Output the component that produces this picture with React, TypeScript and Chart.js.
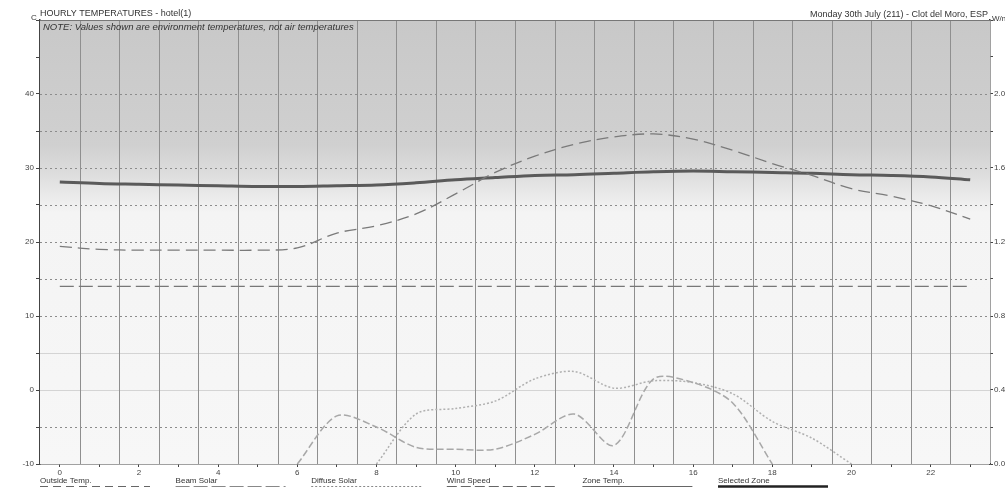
import React, { useEffect, useRef } from "react";
import { Chart, registerables } from "chart.js";

Chart.register(...registerables);

const hours = [0, 1, 2, 3, 4, 5, 6, 7, 8, 9, 10, 11, 12, 13, 14, 15, 16, 17, 18, 19, 20, 21, 22, 23];
const outsideTemp = [19.4, 19.0, 18.9, 18.9, 18.9, 18.9, 19.2, 21.2, 22.2, 23.8, 26.5, 29.4, 31.6, 33.2, 34.2, 34.6, 33.9, 32.4, 30.6, 29.0, 27.2, 26.2, 24.9, 23.1];
const zoneTemp = [28.1, 27.9, 27.8, 27.7, 27.6, 27.5, 27.5, 27.6, 27.7, 28.0, 28.4, 28.7, 29.0, 29.1, 29.3, 29.5, 29.6, 29.5, 29.4, 29.3, 29.1, 29.0, 28.8, 28.4];
const beamSolar = [null, null, null, null, null, null, 0.0, 0.26, 0.2, 0.09, 0.08, 0.08, 0.16, 0.27, 0.1, 0.46, 0.44, 0.33, 0.0, null, null, null, null, null];
const diffuseSolar = [null, null, null, null, null, null, null, null, 0.0, 0.27, 0.3, 0.34, 0.46, 0.5, 0.41, 0.45, 0.44, 0.38, 0.23, 0.14, 0.0, null, null, null];
const windSpeed = [0.96, 0.96, 0.96, 0.96, 0.96, 0.96, 0.96, 0.96, 0.96, 0.96, 0.96, 0.96, 0.96, 0.96, 0.96, 0.96, 0.96, 0.96, 0.96, 0.96, 0.96, 0.96, 0.96, 0.96];
const tempTicks = [-10, -5, 0, 5, 10, 15, 20, 25, 30, 35, 40, 45, 50];
const solarTicks = [0, 0.2, 0.4, 0.6, 0.8, 1.0, 1.2, 1.4, 1.6, 1.8, 2.0, 2.2, 2.4];
const legendLabels = ["Outside Temp.", "Beam Solar", "Diffuse Solar", "Wind Speed", "Zone Temp.", "Selected Zone"];

const FONT = "'Liberation Sans', Arial, sans-serif";

const toXY = (arr: (number | null)[]) => hours.map((h, i) => ({ x: h, y: arr[i] }));

const decorPlugin = {
  id: "decor",
  beforeDatasetsDraw(chart: any) {
    const { ctx, chartArea: a, scales } = chart;
    const x = scales.x;
    const y = scales.y;
    ctx.save();
    const g = ctx.createLinearGradient(0, a.top, 0, a.bottom);
    const yTop = a.top;
    const h = a.bottom - a.top;
    const stop = (v: number) => Math.min(1, Math.max(0, (y.getPixelForValue(v) - yTop) / h));
    g.addColorStop(0, "#c8c8c8");
    g.addColorStop(stop(33), "#d0d0d0");
    g.addColorStop(stop(29), "#dedede");
    g.addColorStop(stop(24), "#f4f4f4");
    g.addColorStop(1, "#f7f7f7");
    ctx.fillStyle = g;
    ctx.fillRect(a.left, a.top, a.right - a.left, a.bottom - a.top);
    for (const v of tempTicks) {
      if (v <= -10 || v >= 45) continue;
      const py = Math.round(y.getPixelForValue(v)) + 0.5;
      ctx.beginPath();
      if (v === 0 || v === 5) {
        ctx.setLineDash([]);
        ctx.strokeStyle = "#d4d4d4";
      } else {
        ctx.setLineDash([2, 3]);
        ctx.strokeStyle = "#8c8c8c";
      }
      ctx.lineWidth = 1;
      ctx.moveTo(a.left, py);
      ctx.lineTo(a.right, py);
      ctx.stroke();
    }
    ctx.setLineDash([]);
    ctx.strokeStyle = "#8f8f8f";
    ctx.lineWidth = 1;
    for (let k = 0; k < hours.length - 1; k++) {
      const px = Math.round(x.getPixelForValue(hours[k] + 0.5)) + 0.5;
      ctx.beginPath();
      ctx.moveTo(px, a.top);
      ctx.lineTo(px, a.bottom);
      ctx.stroke();
    }
    ctx.strokeStyle = "#777";
    ctx.beginPath();
    ctx.moveTo(a.left, a.top + 0.5);
    ctx.lineTo(a.right, a.top + 0.5);
    ctx.stroke();
    ctx.fillStyle = "#333";
    ctx.font = `italic 9.5px ${FONT}`;
    ctx.textBaseline = "alphabetic";
    ctx.textAlign = "left";
    ctx.fillText("NOTE: Values shown are environment temperatures, not air temperatures", a.left + 3, a.top + 10);
    ctx.restore();
  },
  afterDraw(chart: any) {
    const { ctx, chartArea: a } = chart;
    ctx.save();
    ctx.fillStyle = "#333";
    ctx.font = `9px ${FONT}`;
    ctx.textBaseline = "alphabetic";
    ctx.textAlign = "left";
    ctx.fillText("HOURLY TEMPERATURES - hotel(1)", a.left, 16);
    ctx.font = `8px ${FONT}`;
    ctx.fillText("C", 31, 20);
    ctx.font = `9px ${FONT}`;
    ctx.textAlign = "right";
    ctx.fillText("Monday 30th July (211) - Clot del Moro, ESP", a.right - 2, 17);
    ctx.textAlign = "left";
    ctx.font = `8px ${FONT}`;
    ctx.fillText("W/m²", a.right + 2, 21);
    const styles = [
      { dash: [8, 5], color: "#666", w: 1 },
      { dash: [14, 4], color: "#888", w: 1 },
      { dash: [2, 2], color: "#888", w: 1 },
      { dash: [10, 4], color: "#666", w: 1 },
      { dash: [], color: "#666", w: 1 },
      { dash: [], color: "#222", w: 2.5 },
    ];
    legendLabels.forEach((lab, i) => {
      const lx = a.left + i * 135.6;
      ctx.fillStyle = "#333";
      ctx.font = `8px ${FONT}`;
      ctx.fillText(lab, lx, 483);
      const s = styles[i];
      ctx.beginPath();
      ctx.setLineDash(s.dash);
      ctx.strokeStyle = s.color;
      ctx.lineWidth = s.w;
      ctx.moveTo(lx, 486.5);
      ctx.lineTo(lx + 110, 486.5);
      ctx.stroke();
    });
    ctx.restore();
  },
};

export default function App() {
  const ref = useRef<HTMLCanvasElement | null>(null);
  useEffect(() => {
    if (!ref.current) return;
    const tickFont = { family: FONT, size: 8 };
    const chart = new Chart(ref.current, {
      type: "line",
      data: {
        datasets: [
          {
            label: "Beam Solar",
            data: toXY(beamSolar),
            yAxisID: "y1",
            borderColor: "#a8a8a8",
            borderWidth: 1.5,
            borderDash: [7, 3],
            pointRadius: 0,
            tension: 0.3,
            spanGaps: false,
          },
          {
            label: "Diffuse Solar",
            data: toXY(diffuseSolar),
            yAxisID: "y1",
            borderColor: "#b0b0b0",
            borderWidth: 1.5,
            borderDash: [2, 2],
            pointRadius: 0,
            tension: 0.3,
            spanGaps: false,
          },
          {
            label: "Wind Speed",
            data: toXY(windSpeed),
            yAxisID: "y1",
            borderColor: "#777",
            borderWidth: 1.2,
            borderDash: [14, 5],
            pointRadius: 0,
          },
          {
            label: "Outside Temp.",
            data: toXY(outsideTemp),
            yAxisID: "y",
            borderColor: "#7a7a7a",
            borderWidth: 1.3,
            borderDash: [12, 6],
            pointRadius: 0,
            tension: 0.35,
          },
          {
            label: "Selected Zone",
            data: toXY(zoneTemp),
            yAxisID: "y",
            borderColor: "#5a5a5a",
            borderWidth: 3,
            pointRadius: 0,
            tension: 0.35,
          },
        ],
      },
      options: {
        responsive: false,
        animation: false,
        layout: { padding: { top: 20, left: 0, right: 0, bottom: 0 } },
        plugins: { legend: { display: false }, tooltip: { enabled: false }, title: { display: false } },
        scales: {
          x: {
            type: "linear",
            min: -0.5,
            max: 23.5,
            afterBuildTicks: (s: any) => {
              s.ticks = hours.map((h) => ({ value: h }));
            },
            afterFit: (s: any) => {
              s.height = 27;
            },
            ticks: {
              autoSkip: false,
              maxRotation: 0,
              font: tickFont,
              color: "#444",
              padding: 1,
              callback: (v: any) => (Number(v) % 2 === 0 ? String(v) : ""),
            },
            grid: { drawOnChartArea: false, drawTicks: true, tickLength: 3, color: "#444" },
            border: { display: true, color: "#444", width: 1.5 },
          },
          y: {
            type: "linear",
            position: "left",
            min: -10,
            max: 50,
            afterBuildTicks: (s: any) => {
              s.ticks = tempTicks.map((v) => ({ value: v }));
            },
            afterFit: (s: any) => {
              s.width = 40;
            },
            ticks: {
              autoSkip: false,
              font: tickFont,
              color: "#444",
              padding: 2,
              callback: (v: any) => (Number(v) % 10 === 0 && Number(v) <= 40 ? String(v) : ""),
            },
            grid: { drawOnChartArea: false, drawTicks: true, tickLength: 4, color: "#444" },
            border: { display: true, color: "#444", width: 1.5 },
          },
          y1: {
            type: "linear",
            position: "right",
            min: 0,
            max: 2.4,
            afterBuildTicks: (s: any) => {
              s.ticks = solarTicks.map((v) => ({ value: v }));
            },
            afterFit: (s: any) => {
              s.width = 15;
            },
            ticks: {
              autoSkip: false,
              font: tickFont,
              color: "#444",
              padding: 1,
              callback: (v: any) => {
                const n = Math.round(Number(v) * 10);
                return n % 4 === 0 && n <= 20 ? (n / 10).toFixed(1) : "";
              },
            },
            grid: { drawOnChartArea: false, drawTicks: true, tickLength: 3, color: "#444" },
            border: { display: true, color: "#444", width: 1.5 },
          },
        },
      },
      plugins: [decorPlugin],
    } as any);
    return () => chart.destroy();
  }, []);
  return (
    <div style={{ position: "fixed", left: 0, top: 0, width: 1005, height: 491, background: "#fff" }}>
      <canvas ref={ref} width={1005} height={491} style={{ display: "block", width: 1005, height: 491 }} />
    </div>
  );
}
